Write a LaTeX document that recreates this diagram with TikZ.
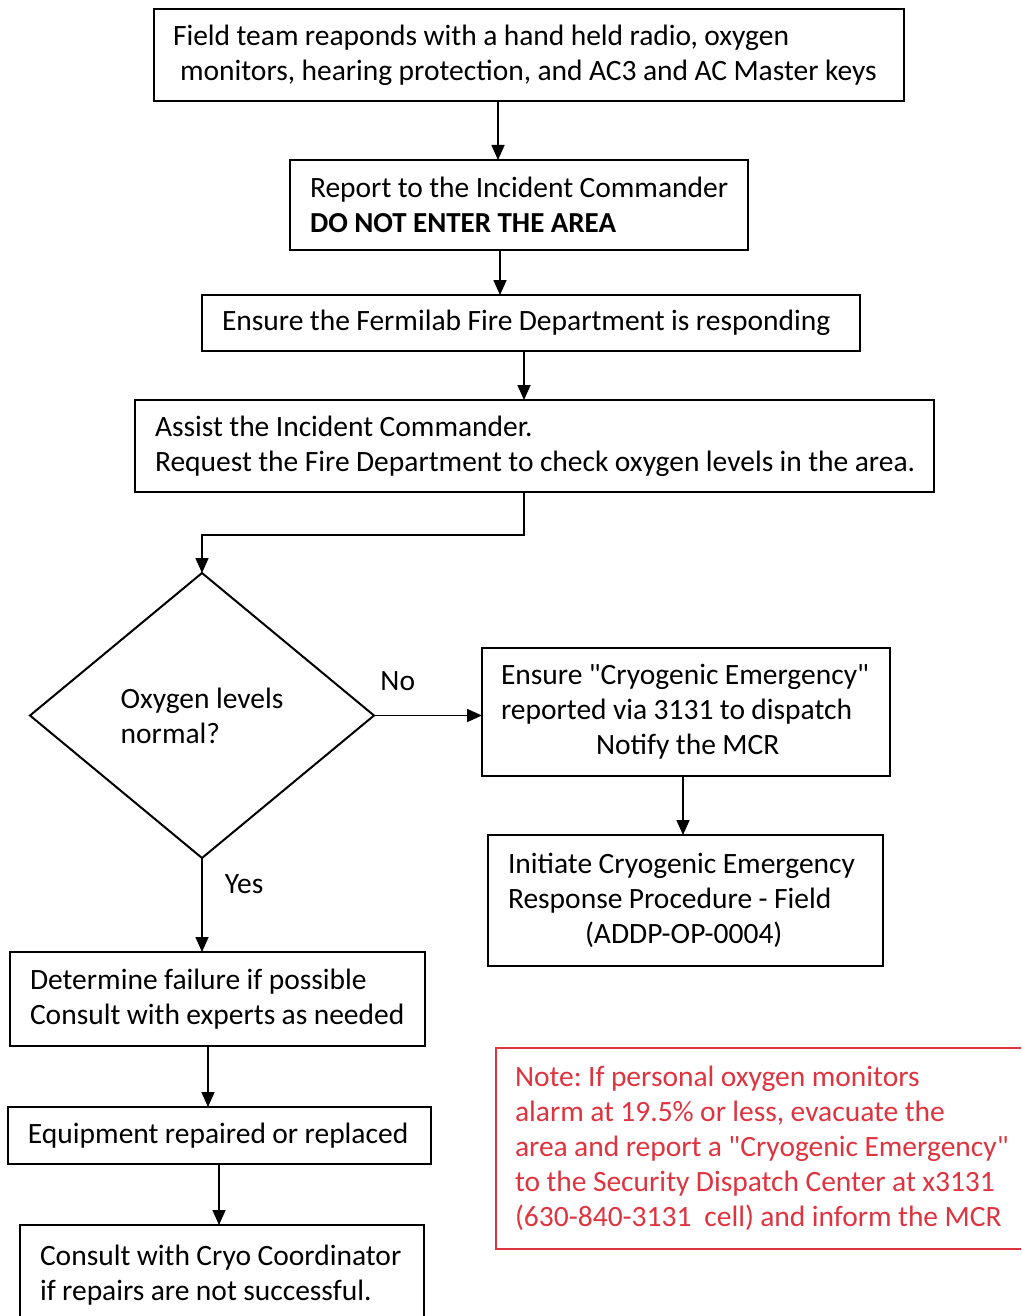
\documentclass[tikz,border=0pt]{standalone}
\usepackage{fontspec}
\setmainfont{Carlito}
\usetikzlibrary{arrows.meta,shapes.geometric}
\definecolor{notered}{RGB}{222,52,64}
\newcommand\myind[1]{\hspace*{#1pt}}
\newcommand\qq{\textquotedbl}
\begin{document}
\frenchspacing
\begin{tikzpicture}[x=1pt,y=-1pt,
  font=\fontsize{29.5}{35}\selectfont,
  every node/.append style={execute at begin node={\spaceskip=6.4pt plus 1pt minus 0.5pt}},
  box/.style={draw, line width=2pt, inner xsep=0pt, inner ysep=0pt, outer sep=0pt, align=left},
  arr/.style={line width=1.6pt, -{Triangle[length=15pt,width=13pt]}},
  lbl/.style={inner sep=0pt}]
\useasboundingbox (0,0) rectangle (1021,1316);
\clip (0,0) rectangle (1021,1316);

\node[box, text width=750pt, minimum height=92pt] (b1) at (529,55)
  {\myind{19}Field team reaponds with a hand held radio, oxygen\\\myind{26}monitors, hearing protection, and AC3 and AC Master keys};
\node[box, text width=458pt, minimum height=90pt] (b2) at (519,205)
  {\myind{20}Report to the Incident Commander\\\myind{20}{\fontsize{29}{35}\selectfont\textbf{DO NOT ENTER THE AREA}}};
\node[box, text width=658pt, minimum height=56pt] (b3) at (531,323)
  {\myind{20}Ensure the Fermilab Fire Department is responding};
\node[box, text width=799pt, minimum height=92pt] (b4) at (534.5,446)
  {\myind{20}Assist the Incident Commander.\\\myind{20}Request the Fire Department to check oxygen levels in the area.};
\node[draw, diamond, line width=2pt, inner sep=0pt, outer sep=0pt, minimum width=344pt, minimum height=285pt, align=left] (dia) at (202,715.5)
  {Oxygen levels\\normal?};
\node[box, text width=408pt, minimum height=128pt] (b5) at (686,712)
  {\myind{19}Ensure \qq Cryogenic Emergency\qq\\\myind{19}reported via 3131 to dispatch\\\myind{114}Notify the MCR};
\node[box, text width=395pt, minimum height=131pt] (b6) at (685.5,900.5)
  {\myind{20}Initiate Cryogenic Emergency\\\myind{20}Response Procedure - Field\\\myind{97}(ADDP-OP-0004)};
\node[box, text width=415pt, minimum height=94pt] (b7) at (217.5,999)
  {\myind{20}Determine failure if possible\\\myind{20}Consult with experts as needed};
\node[box, text width=423pt, minimum height=57pt] (b8) at (219.5,1135.5)
  {\myind{20}Equipment repaired or replaced};
\node[box, text width=404pt, minimum height=100pt] (b9) at (222,1275)
  {\myind{20}Consult with Cryo Coordinator\\\myind{20}if repairs are not successful.};
\node[box, draw=notered, text=notered, text width=560pt, minimum height=201pt] (note) at (776,1148.5)
  {\myind{19}Note: If personal oxygen monitors\\\myind{19}alarm at 19.5\% or less, evacuate the\\\myind{19}area and report a \qq Cryogenic Emergency\qq\\\myind{19}to the Security Dispatch Center at x3131\\\myind{19}(630-840-3131\ \ cell) and inform the MCR};

\coordinate (c1) at (498,0);
\coordinate (c2) at (500,0);
\coordinate (c3) at (524,0);
\coordinate (c5) at (683,0);
\coordinate (c7) at (208,0);
\coordinate (c8) at (219,0);

\draw[arr] (c1 |- b1.south) -- (c1 |- b2.north);
\draw[arr] (c2 |- b2.south) -- (c2 |- b3.north);
\draw[arr] (c3 |- b3.south) -- (c3 |- b4.north);
\draw[arr] (c3 |- b4.south) -- ++(0,43) -| (dia.north);
\draw[arr] (dia.east) -- node[lbl, above=24pt, pos=0.22] (no) {No} (dia.east -| b5.west);
\draw[arr] (dia.south) -- node[lbl, right=22pt, pos=0.28] (yes) {Yes} (dia.south |- b7.north);
\draw[arr] (c5 |- b5.south) -- (c5 |- b6.north);
\draw[arr] (c7 |- b7.south) -- (c7 |- b8.north);
\draw[arr] (c8 |- b8.south) -- (c8 |- b9.north);
\end{tikzpicture}
\end{document}
